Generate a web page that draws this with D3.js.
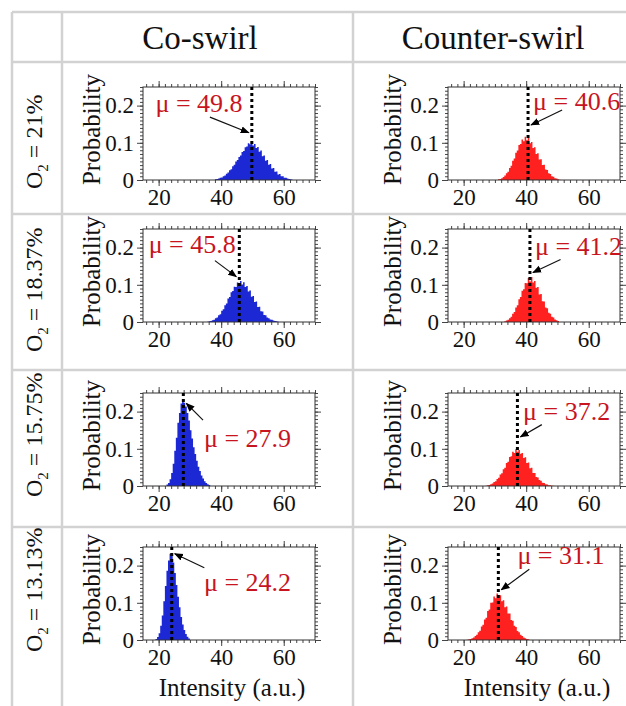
<!DOCTYPE html>
<html>
<head>
<meta charset="utf-8">
<script src="https://cdn.jsdelivr.net/npm/d3@7"></script>
<style>
  html, body { margin: 0; padding: 0; background: #fff; }
  svg { display: block; }
  svg text { font-family: "Liberation Serif", "DejaVu Serif", serif !important; }
</style>
</head>
<body>
<svg id="chart" width="626" height="706" font-family="Liberation Serif, DejaVu Serif, serif"></svg>
<script>
// Intensity histograms (probability per 0.5-unit bin) for each O2 level and swirl case
const columns = ["Co-swirl", "Counter-swirl"];
const o2Levels = ["21%", "18.37%", "15.75%", "13.13%"];
const binWidth = 0.5;
const xTicks = [20, 40, 60];
const yTicks = [0, 0.1, 0.2];
const yTickLabels = ["0", "0.1", "0.2"];

// mean intensity per row: [co-swirl, counter-swirl]
const meanCo = [49.8, 45.8, 27.9, 24.2];
const meanCounter = [40.6, 41.2, 37.2, 31.1];

// first bin edge of each histogram
const startCo = [38, 35.5, 22.5, 19];
const startCounter = [31, 33, 27, 21];

const co21 = [0.002, 0.003, 0.004, 0.006, 0.007, 0.010, 0.012, 0.017, 0.020, 0.026, 0.029, 0.037, 0.041, 0.050, 0.054, 0.062, 0.066, 0.075, 0.078, 0.088, 0.090, 0.099, 0.096, 0.103, 0.093, 0.097, 0.086, 0.089, 0.076, 0.079, 0.064, 0.066, 0.052, 0.054, 0.041, 0.043, 0.031, 0.032, 0.022, 0.023, 0.015, 0.016, 0.010, 0.010, 0.006, 0.006, 0.004, 0.003, 0.002, 0.001];
const counter21 = [0.002, 0.003, 0.005, 0.008, 0.012, 0.018, 0.022, 0.032, 0.038, 0.052, 0.058, 0.073, 0.079, 0.094, 0.097, 0.109, 0.104, 0.116, 0.107, 0.113, 0.099, 0.102, 0.086, 0.088, 0.070, 0.072, 0.055, 0.056, 0.040, 0.041, 0.028, 0.027, 0.018, 0.016, 0.010, 0.009, 0.005, 0.004, 0.002, 0.001];
const co1837 = [0.001, 0.002, 0.003, 0.005, 0.006, 0.010, 0.012, 0.018, 0.021, 0.030, 0.034, 0.045, 0.050, 0.063, 0.067, 0.080, 0.083, 0.095, 0.094, 0.106, 0.100, 0.110, 0.101, 0.107, 0.094, 0.097, 0.082, 0.085, 0.068, 0.070, 0.054, 0.055, 0.040, 0.041, 0.029, 0.028, 0.019, 0.018, 0.012, 0.010, 0.007, 0.006, 0.004, 0.003, 0.002, 0.001];
const counter1837 = [0.002, 0.004, 0.006, 0.010, 0.014, 0.022, 0.027, 0.039, 0.045, 0.061, 0.067, 0.084, 0.088, 0.105, 0.104, 0.118, 0.109, 0.121, 0.106, 0.110, 0.092, 0.094, 0.074, 0.075, 0.056, 0.055, 0.039, 0.037, 0.025, 0.022, 0.014, 0.012, 0.007, 0.005, 0.003];
const co1575 = [0.004, 0.008, 0.018, 0.035, 0.060, 0.095, 0.130, 0.170, 0.196, 0.222, 0.228, 0.224, 0.214, 0.196, 0.176, 0.150, 0.128, 0.104, 0.086, 0.068, 0.052, 0.040, 0.028, 0.020, 0.013, 0.008, 0.005, 0.003];
const counter1575 = [0.001, 0.002, 0.003, 0.005, 0.007, 0.011, 0.013, 0.019, 0.022, 0.031, 0.034, 0.045, 0.049, 0.062, 0.065, 0.078, 0.080, 0.092, 0.089, 0.099, 0.092, 0.097, 0.087, 0.089, 0.075, 0.077, 0.062, 0.063, 0.048, 0.049, 0.035, 0.035, 0.024, 0.023, 0.016, 0.014, 0.009, 0.008, 0.005, 0.004, 0.002, 0.002, 0.001, 0.001];
const co1313 = [0.003, 0.008, 0.018, 0.038, 0.066, 0.104, 0.145, 0.186, 0.214, 0.232, 0.226, 0.208, 0.180, 0.148, 0.116, 0.088, 0.062, 0.042, 0.027, 0.016, 0.009, 0.004];
const counter1313 = [0.001, 0.002, 0.003, 0.005, 0.007, 0.011, 0.014, 0.021, 0.025, 0.036, 0.041, 0.055, 0.060, 0.078, 0.082, 0.100, 0.101, 0.117, 0.112, 0.125, 0.113, 0.120, 0.104, 0.107, 0.088, 0.090, 0.071, 0.071, 0.054, 0.052, 0.038, 0.035, 0.024, 0.021, 0.014, 0.011, 0.007, 0.005, 0.003, 0.002];

const histCo = [co21, co1837, co1575, co1313];
const histCounter = [counter21, counter1837, counter1575, counter1313];

// ---- layout ----
const svg = d3.select("#chart");
const W = 626, H = 706;
const serif = "Liberation Serif, DejaVu Serif, serif";
const gridColor = "#d2d2d2";
const colEdges = [12, 62, 353, 626];
const rowEdges = [12, 62, 214, 370, 527, 706];
const frameX = [[143, 315], [448, 620]];
const frameY = [[87, 180], [229, 322], [393, 486], [547, 640]];
const rowLabelBase = [189, 352, 497, 652];
const headerX = [200, 493];
const barColor = ["#1c28d4", "#ff2020"];
const labelRed = "#c8141e";

// annotation geometry per panel (data units): text start, arrow tail, arrow tip height
const notes = [
  [{tx: 19, ty: 0.184, ax: 36.4, ay: 0.169, by: 0.127},
   {tx: 42.2, ty: 0.188, ax: 51.5, ay: 0.188, by: 0.148}],
  [{tx: 16.8, ty: 0.186, ax: 38, ay: 0.165, by: 0.122},
   {tx: 42.8, ty: 0.18, ax: 51, ay: 0.168, by: 0.133}],
  [{tx: 34.5, ty: 0.105, ax: 34.2, ay: 0.177, by: 0.222},
   {tx: 39, ty: 0.178, ax: 45, ay: 0.165, by: 0.132}],
  [{tx: 34.5, ty: 0.132, ax: 34.6, ay: 0.194, by: 0.232},
   {tx: 37.2, ty: 0.205, ax: 41, ay: 0.19, by: 0.135}]
];

// table grid
const grid = svg.append("g").attr("stroke", gridColor).attr("stroke-width", 2.5);
grid.append("line").attr("x1", colEdges[0]).attr("x2", W).attr("y1", rowEdges[0]).attr("y2", rowEdges[0]);
rowEdges.slice(1, 5).forEach(y => grid.append("line").attr("x1", colEdges[0]).attr("x2", W).attr("y1", y).attr("y2", y));
colEdges.slice(0, 3).forEach(x => grid.append("line").attr("x1", x).attr("x2", x).attr("y1", rowEdges[0]).attr("y2", H));

// column headers
columns.forEach((c, i) => {
  svg.append("text")
    .attr("x", headerX[i])
    .attr("y", 49)
    .attr("text-anchor", "middle")
    .attr("font-family", serif)
    .attr("font-size", 33)
    .attr("fill", "#111")
    .text(c);
});

// row labels: O2 = x%, reading upward
o2Levels.forEach((lvl, r) => {
  const t = svg.append("text")
    .attr("transform", `translate(42,${rowLabelBase[r]}) rotate(-90)`)
    .attr("text-anchor", "start")
    .attr("font-family", serif)
    .attr("font-size", 24)
    .attr("fill", "#111");
  t.append("tspan").text("O");
  t.append("tspan").attr("font-size", 15).attr("dy", 6).text("2");
  t.append("tspan").attr("dy", -6).text(" = " + lvl);
});

const tickColor = "#444";

function panel(r, c) {
  const data = c === 0 ? histCo[r] : histCounter[r];
  const start = c === 0 ? startCo[r] : startCounter[r];
  const mu = c === 0 ? meanCo[r] : meanCounter[r];
  const [x0, x1] = frameX[c];
  const [y0, y1] = frameY[r];
  const x = d3.scaleLinear().domain([15, 70]).range([x0, x1]);
  const y = d3.scaleLinear().domain([0, 0.25]).range([y1, y0]);
  const g = svg.append("g");

  // histogram drawn as a stepped area (one path, no seams between bins)
  const pts = data.map((d, i) => [start + i * binWidth, d]);
  pts.push([start + data.length * binWidth, 0]);
  g.append("path")
    .datum(pts)
    .attr("fill", barColor[c])
    .attr("d", d3.area().curve(d3.curveStepAfter)
      .x(d => x(d[0])).y0(y(0)).y1(d => y(d[1])));

  // axes: major + minor ticks on all four sides, pointing outward
  const minorX = d3.range(16, 71, 2);
  const minorY = d3.range(0, 0.2501, 0.01);
  const styleAxis = sel => {
    sel.select(".domain").remove();
    sel.selectAll("line").attr("stroke", tickColor).attr("stroke-width", 1);
  };
  g.append("g").attr("transform", `translate(0,${y1})`)
    .call(d3.axisBottom(x).tickValues(minorX).tickSize(3).tickFormat("")).call(styleAxis);
  g.append("g").attr("transform", `translate(0,${y0})`)
    .call(d3.axisTop(x).tickValues(minorX).tickSize(3).tickFormat("")).call(styleAxis);
  g.append("g").attr("transform", `translate(${x0},0)`)
    .call(d3.axisLeft(y).tickValues(minorY).tickSize(3).tickFormat("")).call(styleAxis);
  g.append("g").attr("transform", `translate(${x1},0)`)
    .call(d3.axisRight(y).tickValues(minorY).tickSize(3).tickFormat("")).call(styleAxis);

  const bx = g.append("g").attr("transform", `translate(0,${y1})`)
    .call(d3.axisBottom(x).tickValues(xTicks).tickSize(6).tickPadding(3));
  styleAxis(bx);
  bx.attr("font-family", serif);
  bx.selectAll("text").attr("font-size", 23).attr("fill", "#111");
  g.append("g").attr("transform", `translate(0,${y0})`)
    .call(d3.axisTop(x).tickValues(xTicks).tickSize(6).tickFormat("")).call(styleAxis);
  const ly = g.append("g").attr("transform", `translate(${x0},0)`)
    .call(d3.axisLeft(y).tickValues(yTicks).tickSize(6).tickPadding(3)
      .tickFormat((d, i) => yTickLabels[i]));
  styleAxis(ly);
  ly.attr("font-family", serif);
  ly.selectAll("text").attr("font-size", 23).attr("fill", "#111");
  g.append("g").attr("transform", `translate(${x1},0)`)
    .call(d3.axisRight(y).tickValues(yTicks).tickSize(6).tickFormat("")).call(styleAxis);

  // frame
  g.append("rect").attr("x", x0).attr("y", y0).attr("width", x1 - x0).attr("height", y1 - y0)
    .attr("fill", "none").attr("stroke", "#333").attr("stroke-width", 1);

  // mean marker
  g.append("line").attr("x1", x(mu)).attr("x2", x(mu)).attr("y1", y(0.25)).attr("y2", y(0))
    .attr("stroke", "#000").attr("stroke-width", 3).attr("stroke-dasharray", "3,3");

  // y label
  svg.append("text")
    .attr("transform", `translate(${x0 - (c === 0 ? 43 : 47)},${(y0 + y1) / 2 - 4}) rotate(-90)`)
    .attr("text-anchor", "middle")
    .attr("font-family", serif)
    .attr("font-size", 25)
    .attr("fill", "#111")
    .text("Probability");

  // x label only on the bottom row
  if (r === o2Levels.length - 1) {
    svg.append("text")
      .attr("x", (x0 + x1) / 2 + 3).attr("y", y1 + 56)
      .attr("text-anchor", "middle")
      .attr("font-family", serif)
      .attr("font-size", 25)
      .attr("fill", "#111")
      .text("Intensity (a.u.)");
  }

  // annotation
  const n = notes[r][c];
  g.append("text")
    .attr("x", x(n.tx)).attr("y", y(n.ty))
    .attr("font-family", serif)
    .attr("font-size", 26)
    .attr("fill", labelRed)
    .text(`μ = ${mu.toFixed(1)}`);
  const tipX = x(mu) + (x(n.ax) < x(mu) ? -3 : 3);
  g.append("line")
    .attr("x1", x(n.ax)).attr("y1", y(n.ay))
    .attr("x2", tipX).attr("y2", y(n.by))
    .attr("stroke", "#111").attr("stroke-width", 1.2)
    .attr("marker-end", "url(#arrowhead)");
}

svg.append("defs").append("marker")
  .attr("id", "arrowhead").attr("viewBox", "0 0 10 10")
  .attr("refX", 9).attr("refY", 5)
  .attr("markerWidth", 9).attr("markerHeight", 9)
  .attr("markerUnits", "userSpaceOnUse")
  .attr("orient", "auto")
  .append("path").attr("d", "M0,1 L10,5 L0,9 Z").attr("fill", "#000");

for (let r = 0; r < o2Levels.length; r++) {
  for (let c = 0; c < columns.length; c++) panel(r, c);
}
</script>
</body>
</html>
